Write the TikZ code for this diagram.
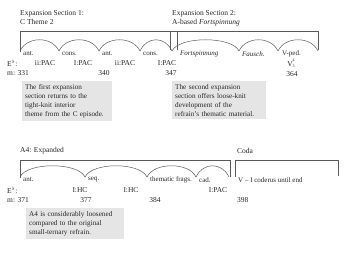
\documentclass[tikz,border=0pt]{standalone}
\usepackage{fontspec}
\setmainfont{Liberation Serif}
\usepackage{tikz}
\usetikzlibrary{positioning}
\usepackage{xcolor}
\definecolor{rulegray}{gray}{0.35}
\definecolor{notegray}{gray}{0.9}
\tikzstyle{bracket} = [draw=rulegray, line width=0.6pt]
\tikzstyle{slur} = [draw=rulegray, line width=0.5pt]
\tikzstyle{title} = [anchor=west, inner sep=0pt, font=\fontsize{7.5}{9}\selectfont]
\tikzstyle{tag} = [anchor=west, inner sep=0pt, font=\fontsize{7}{8}\selectfont]
\tikzstyle{key} = [inner sep=0pt, font=\fontsize{7.5}{9}\selectfont]
\tikzstyle{note} = [anchor=north west, fill=notegray, text width=84pt, align=left, inner sep=3pt, font=\fontsize{7.2}{9}\selectfont]

\begin{document}
\begin{tikzpicture}[x=1pt, y=-1pt, text=black!85]
  \useasboundingbox (0,0) rectangle (350,254);

  % Titles
  \node[title] (sec1) at (20,14) {Expansion Section 1:};
  \node[title, below=2pt of sec1.south west, anchor=north west] (sec1b) {C Theme 2};
  \node[title] (sec2) at (172,14) {Expansion Section 2:};
  \node[title, below=2pt of sec2.south west, anchor=north west] (sec2b) {A-based \textit{Fortspinnung}};
  \node[title] (a4) at (20,151) {A4: Expanded};
  \node[title] (coda) at (237,151) {Coda};

  % Brackets
  \draw[bracket] (20,52) -- (20,31) -- (170,31) -- (170,50);
  \draw[bracket] (170,31) -- (318,31) -- (318,50);
  \draw[bracket] (177,31) -- (177,50);
  \draw[bracket] (20,178) -- (20,160) -- (230,160) -- (230,177);
  \draw[bracket] (235,177) -- (235,160) -- (338,160) -- (338,176);

  % Slurs
  \foreach \a/\b in {20/59, 59/99, 99/140, 140/172, 172/239, 239/278, 278/318}
    \draw[slur] (\a,51) .. controls +(7,-15) and +(-7,-15) .. (\b,51);
  \foreach \a/\b in {20/85, 85/147, 147/196, 196/229}
    \draw[slur] (\a,177) .. controls +(7,-15) and +(-7,-15) .. (\b,177);

  % Phrase labels
  \node[tag] (ant1) at (23,54) {ant.};
  \node[tag] (cons1) at (62,54) {cons.};
  \node[tag] (ant2) at (102,54) {ant.};
  \node[tag] (cons2) at (143,54) {cons.};
  \node[tag] (fort) at (180,54) {\textit{Fortspinnung}};
  \node[tag] (fausch) at (242,54) {\textit{Fausch.}};
  \node[tag] (vped) at (282,54) {V-ped.};
  \node[tag] (ant3) at (23,180) {ant.};
  \node[tag] (seq) at (88,180) {seq.};
  \node[tag] (frags) at (150,180) {thematic frags.};
  \node[tag] (cad) at (199,180) {cad.};
  \node[tag] (vi) at (238,180) {V -- I coderus until end};

  % Keys and cadences
  \node[key, anchor=west] (key1) at (7,63) {E$^\flat$:};
  \node[key] (c1) at (45,63) {ii:PAC};
  \node[key] (c2) at (83,63) {I:PAC};
  \node[key] (c3) at (125,63) {ii:PAC};
  \node[key] (c4) at (167,63) {I:PAC};
  \node[key] (c5) at (291,63) {V\raisebox{-0.6pt}{\fontsize{4}{3.6}\selectfont\shortstack{4\\3}}};
  \node[key, anchor=west] (key2) at (7,190) {E$^\flat$:};
  \node[key] (c6) at (80,190) {I:HC};
  \node[key] (c7) at (131,190) {I:HC};
  \node[key] (c8) at (218,190) {I:PAC};

  % Measure numbers
  \node[key, anchor=west] (m331) at (7,73) {m: 331};
  \node[key] (m340) at (104,73) {340};
  \node[key] (m347) at (171,73) {347};
  \node[key] (m364) at (292,74) {364};
  \node[key, anchor=west] (m371) at (7,200) {m: 371};
  \node[key] (m377) at (86,200) {377};
  \node[key] (m384) at (155,200) {384};
  \node[key, anchor=west] (m398) at (237,200) {398};

  % Notes
  \node[note] (note1) at (22,81) {The first expansion\\ section returns to the\\ tight-knit interior\\ theme from the C episode.};
  \node[note, text width=88pt] (note2) at (172,81) {The second expansion\\ section offers loose-knit\\ development of the\\ refrain's thematic material.};
  \node[note, text width=92pt] (note3) at (26,208) {A4 is considerably loosened\\ compared to the original\\ small-ternary refrain.};
\end{tikzpicture}
\end{document}
